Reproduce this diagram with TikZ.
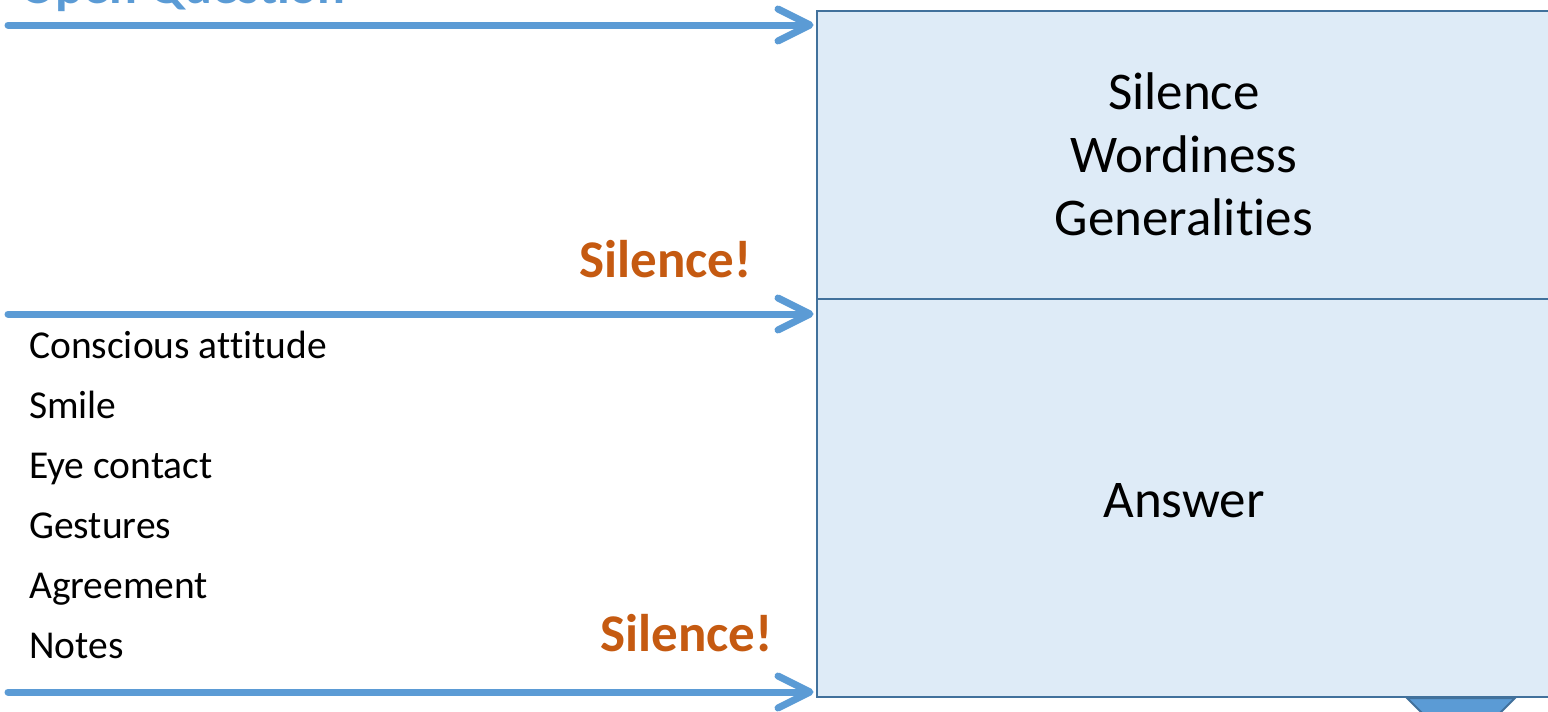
\documentclass[tikz,border=0pt]{standalone}
\usepackage{fontspec}
\setmainfont{Carlito}[Ligatures=NoCommon]
\definecolor{arrowblue}{HTML}{5B9BD5}
\definecolor{boxborder}{HTML}{41719C}
\definecolor{boxfill}{HTML}{DEEBF7}
\definecolor{silenceorange}{HTML}{C55A11}
\tikzset{
  flow/.style={draw=arrowblue, line width=7pt, line cap=round},
  chev/.style={draw=arrowblue, line width=7pt, line cap=round, line join=round},
  panel/.style={draw=boxborder, fill=boxfill, line width=2.5pt},
  listtext/.style={anchor=base west, inner sep=0pt, font=\fontsize{39.5}{47}\selectfont},
  boxtext/.style={anchor=base, inner sep=0pt, font=\fontsize{53}{63}\selectfont},
  warn/.style={anchor=base west, inner sep=0pt, text=silenceorange, font=\bfseries\fontsize{53}{63}\selectfont},
}
\begin{document}
\begin{tikzpicture}[x=1pt,y=-1pt]
\useasboundingbox (0,0) rectangle (1548,712);
\clip (0,0) rectangle (1548,712);
% boxes
\path[panel] (817,11) rectangle (1570,299);
\path[panel] (817,299) rectangle (1570,697);
\coordinate (topin) at (812,25);
\coordinate (midin) at (812,314);
\coordinate (botin) at (812,692);
\coordinate (topstart) at (8,25);
\coordinate (midstart) at (8,314);
\coordinate (botstart) at (8,692);
% down arrow stub
\filldraw[fill=arrowblue, draw=boxborder, line width=2pt] (1407,698) -- (1515,698) -- (1480,733) -- (1442,733) -- cycle;
% arrows
\foreach \a/\b in {topstart/topin, midstart/midin, botstart/botin}{
  \draw[flow] (\a) -- ([xshift=-6pt]\b);
  \draw[chev] ([xshift=-34pt,yshift=-16pt]\b) -- ([xshift=-2pt]\b) -- ([xshift=-34pt,yshift=16pt]\b);
}
% texts
\node[anchor=base west, inner sep=0pt, text=arrowblue, font=\bfseries\fontsize{52}{62}\selectfont] (oq) at (20,3) {Open Question};
\node[boxtext] (t1) at (1184,109) {Silence};
\node[boxtext] (t2) at (1184,172) {Wordiness};
\node[boxtext] (t3) at (1184,235) {Generalities};
\node[boxtext] (ans) at (1184,517) {Answer};
\node[warn] (s1) at (579,277) {Silence!};
\node[warn] (s2) at (600,651) {Silence!};
\node[listtext] (l1) at (29,358) {Conscious attitude};
\node[listtext] (l2) at (29,418) {Smile};
\node[listtext] (l3) at (29,478) {Eye contact};
\node[listtext] (l4) at (29,538) {Gestures};
\node[listtext] (l5) at (29,598) {Agreement};
\node[listtext] (l6) at (29,658) {Notes};
\end{tikzpicture}
\end{document}
